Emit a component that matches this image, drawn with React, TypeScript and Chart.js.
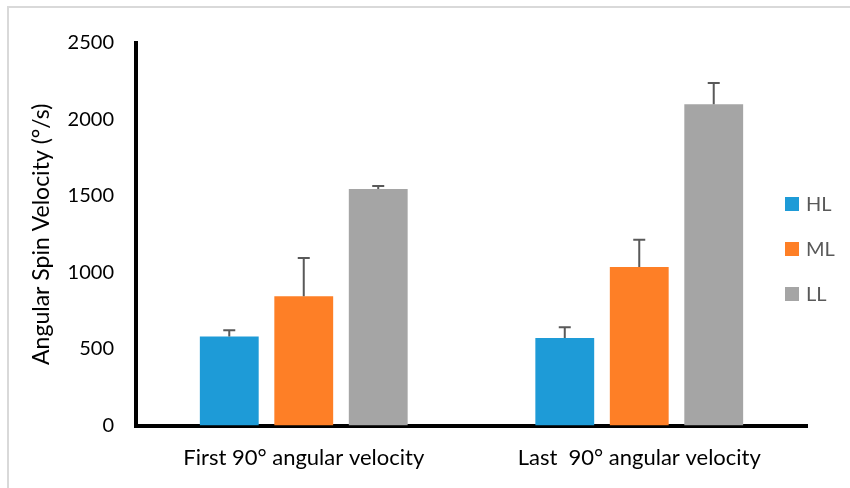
import React, { useEffect, useRef } from "react";
import { Chart, registerables } from "chart.js";

Chart.register(...registerables);

const categories = ["First 90° angular velocity", "Last  90° angular velocity"];
const seriesNames = ["HL", "ML", "LL"];
const hlValues = [581, 572];
const hlErrors = [41, 70];
const mlValues = [844, 1036];
const mlErrors = [251, 178];
const llValues = [1545, 2100];
const llErrors = [20, 139];
const yTicks = [0, 500, 1000, 1500, 2000, 2500];
const yTitle = "Angular Spin Velocity (°/s)";

const colors = ["#1E9BD7", "#FE7F26", "#A5A5A5"];
const FONT = "Lato, 'Open Sans', sans-serif";

const errorBarPlugin = {
  id: "errorBars",
  afterDatasetsDraw(chart: any) {
    const ctx = chart.ctx;
    const yScale = chart.scales.y;
    chart.data.datasets.forEach((ds: any, i: number) => {
      const meta = chart.getDatasetMeta(i);
      meta.data.forEach((bar: any, j: number) => {
        const v = ds.data[j];
        const e = ds.errors[j];
        const yTop = yScale.getPixelForValue(v + e);
        ctx.save();
        ctx.strokeStyle = "#595959";
        ctx.lineWidth = 2;
        ctx.beginPath();
        ctx.moveTo(bar.x, bar.y);
        ctx.lineTo(bar.x, yTop);
        ctx.moveTo(bar.x - 6, yTop);
        ctx.lineTo(bar.x + 6, yTop);
        ctx.stroke();
        ctx.restore();
      });
    });
  },
};

const legendPlugin = {
  id: "sideLegend",
  afterDraw(chart: any) {
    const ctx = chart.ctx;
    chart.data.datasets.forEach((ds: any, i: number) => {
      const cy = 204 + i * 45;
      ctx.save();
      ctx.fillStyle = ds.backgroundColor;
      ctx.fillRect(785, cy - 7, 14, 14);
      ctx.fillStyle = "#595959";
      ctx.font = `20px ${FONT}`;
      ctx.textBaseline = "middle";
      ctx.textAlign = "left";
      ctx.fillText(ds.label, 806, cy + 1);
      ctx.restore();
    });
  },
};

export default function App() {
  const ref = useRef<HTMLCanvasElement>(null);
  useEffect(() => {
    if (!ref.current) return;
    const values = [hlValues, mlValues, llValues];
    const errors = [hlErrors, mlErrors, llErrors];
    const chart = new Chart(ref.current, {
      type: "bar",
      data: {
        labels: categories,
        datasets: seriesNames.map((name, i) => ({
          label: name,
          data: values[i],
          errors: errors[i],
          backgroundColor: colors[i],
          categoryPercentage: 0.666,
          barPercentage: 0.79,
        })) as any,
      },
      options: {
        responsive: false,
        animation: false,
        layout: { padding: { top: 43, right: 43, left: 0, bottom: 0 } },
        plugins: { legend: { display: false }, tooltip: { enabled: false } },
        scales: {
          x: {
            grid: { display: false },
            border: { display: true, color: "#000", width: 4 },
            ticks: { color: "#000", font: { family: FONT, size: 22 }, padding: 11 },
            afterFit(scale: any) {
              scale.height = 488 - 425.5;
            },
          },
          y: {
            min: 0,
            max: 2500,
            afterBuildTicks(scale: any) {
              scale.ticks = yTicks.map((v) => ({ value: v }));
            },
            grid: { display: false },
            border: { display: true, color: "#000", width: 4 },
            ticks: {
              color: "#000",
              font: { family: FONT, size: 20 },
              padding: 14,
              callback: (v: any) => String(v),
            },
            title: {
              display: true,
              text: yTitle,
              color: "#000",
              font: { family: FONT, size: 23 },
              padding: { top: 28, bottom: 0 },
            },
            afterFit(scale: any) {
              scale.width = 136;
            },
          },
        },
      },
      plugins: [errorBarPlugin, legendPlugin],
    } as any);
    return () => chart.destroy();
  }, []);
  return (
    <div style={{ position: "absolute", left: 0, top: 0, width: 850, height: 488, background: "#fff" }}>
      <div
        style={{
          position: "absolute",
          left: 7,
          top: 6,
          width: 843,
          height: 482,
          borderLeft: "2px solid #d9d9d9",
          borderTop: "2px solid #d9d9d9",
          boxSizing: "border-box",
        }}
      />
      <canvas ref={ref} width={850} height={488} style={{ position: "absolute", left: 0, top: 0 }} />
    </div>
  );
}
